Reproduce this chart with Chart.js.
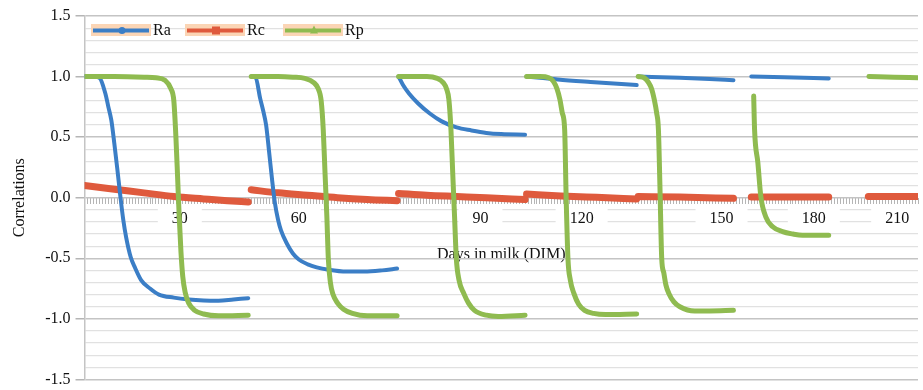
<!DOCTYPE html>
<html>
<head>
<meta charset="utf-8">
<script src="https://cdn.jsdelivr.net/npm/chart.js@4.4.1/dist/chart.umd.min.js"></script>
<style>
  html, body { margin: 0; padding: 0; background: #fff; }
  #wrap { width: 923px; height: 390px; position: relative; }
</style>
</head>
<body>
<div id="wrap"><canvas id="myChart"></canvas></div>
<script>
// x = position along the DIM axis, y = correlation; null breaks the line between windows
var raDim = [0, 3, 5, 7, 8, 9, 10, 11, 12, 13, 14, 15.5, 17, 19, 22, 25, 30, 35, 40, 45, 50, 55, 55.5,
  56, 57.5, 59, 60, 61, 62, 63, 64, 65, 66, 68, 70, 72, 75, 78, 82, 88, 94, 100, 105, 105.2,
  105.5, 107, 109, 112, 116, 120, 125, 130, 135, 140, 148, 148.2,
  148.5, 153, 159, 170, 185.5, 185.7,
  186, 200, 210, 218, 221,
  224, 235, 250];
var raVal = [1.0, 1.0, 0.99, 0.86, 0.75, 0.64, 0.45, 0.24, 0.02, -0.18, -0.33, -0.49, -0.58, -0.68, -0.75, -0.80, -0.825, -0.84, -0.848, -0.85, -0.84, -0.83, null,
  1.0, 0.99, 0.82, 0.72, 0.6, 0.38, 0.15, -0.05, -0.18, -0.27, -0.38, -0.46, -0.51, -0.55, -0.575, -0.595, -0.61, -0.61, -0.6, -0.585, null,
  1.0, 0.93, 0.86, 0.78, 0.695, 0.63, 0.58, 0.555, 0.535, 0.525, 0.52, null,
  1.0, 0.99, 0.975, 0.955, 0.93, null,
  1.0, 0.99, 0.98, 0.97, null,
  1.0, 0.995, 0.985];

var rcDim = [0, 10, 20, 30, 40, 48, 55, 55.5, 56, 65, 75, 85, 95, 105, 105.2, 105.5, 115, 125, 135, 148, 148.2,
  148.5, 160, 172, 185.5, 185.7, 186, 200, 218, 221, 224, 250, 257, 263.3, 280];
var rcVal = [0.1, 0.07, 0.04, 0.01, -0.01, -0.025, -0.035, null, 0.065, 0.04, 0.02, 0.0, -0.015, -0.025, null, 0.035, 0.02, 0.01, 0.0, -0.015, null,
  0.03, 0.015, 0.003, -0.01, null, 0.01, 0.005, -0.005, null, 0.005, 0.005, null, 0.01, 0.01];

var rpDim = [0, 10, 20, 24, 27, 29, 30, 30.7, 31.3, 31.8, 32.4, 33, 33.8, 35, 37, 40, 45, 55, 55.5,
  56, 65, 70, 74, 77, 78.5, 79.5, 80.2, 80.8, 81.4, 81.9, 82.6, 83.5, 85, 87, 90, 95, 105, 105.2,
  105.5, 115, 118.5, 120.5, 121.6, 122.4, 123.1, 123.7, 124.3, 124.9, 125.8, 127.4, 129, 131, 135, 139, 148, 148.2,
  148.5, 153, 156, 157.5, 158.7, 159.7, 160.5, 161.3, 161.8, 162.4, 163.2, 164.4, 166, 168, 171, 175, 185.5, 185.7,
  186, 188, 189.5, 190.5, 191.4, 192.2, 192.8, 193.3, 193.9, 194.6, 195.3, 196.3, 198, 200, 205, 210, 218, 221,
  224.8, 225.1, 226.2, 227.2, 228.9, 231.2, 234.5, 238, 241.2, 250, 257,
  263.5, 272, 280];
var rpVal = [1.0, 1.0, 0.995, 0.99, 0.97, 0.9, 0.8, 0.5, 0.15, -0.15, -0.45, -0.65, -0.78, -0.87, -0.93, -0.96, -0.975, -0.97, null,
  1.0, 1.0, 0.995, 0.985, 0.95, 0.9, 0.8, 0.56, 0.2, -0.15, -0.5, -0.7, -0.8, -0.87, -0.92, -0.955, -0.975, -0.975, null,
  1.0, 1.0, 0.985, 0.95, 0.9, 0.81, 0.56, 0.2, -0.15, -0.5, -0.68, -0.79, -0.87, -0.93, -0.97, -0.98, -0.97, null,
  1.0, 1.0, 0.99, 0.96, 0.9, 0.81, 0.7, 0.56, 0.0, -0.5, -0.68, -0.79, -0.88, -0.93, -0.955, -0.965, -0.96, null,
  1.0, 0.99, 0.95, 0.9, 0.81, 0.7, 0.56, 0.1, -0.5, -0.62, -0.72, -0.79, -0.86, -0.9, -0.935, -0.935, -0.93, null,
  0.84, 0.56, 0.29, 0.01, -0.16, -0.24, -0.28, -0.3, -0.31, -0.31, null,
  1.0, 0.995, 0.99];

var tickDim = [32, 72, 133, 167, 214, 245, 273];
var tickText = ['30', '60', '90', '120', '150', '180', '210'];

var serif = "'Liberation Serif', 'Times New Roman', serif";

function toPoints(xs, ys) {
  return xs.map(function (x, i) { return {x: x, y: ys[i]}; });
}
function isMajor(v) {
  return Math.abs(v * 2 - Math.round(v * 2)) < 1e-6;
}

// legend drawn inside the plot, top left, like the original
var insideLegend = {
  id: 'insideLegend',
  afterDatasetsDraw: function (chart) {
    var ctx = chart.ctx;
    var starts = [91, 185, 283];
    var y = 30.5;
    ctx.save();
    chart.data.datasets.forEach(function (ds, i) {
      var x0 = starts[i];
      ctx.fillStyle = '#fbd5b5';
      ctx.fillRect(x0, 24, 60, 12);
      ctx.strokeStyle = ds.borderColor;
      ctx.lineWidth = 4;
      ctx.beginPath();
      ctx.moveTo(x0 + 2, y);
      ctx.lineTo(x0 + 58, y);
      ctx.stroke();
      ctx.fillStyle = ds.borderColor;
      var mx = x0 + 31;
      ctx.beginPath();
      if (ds.pointStyle === 'rect') {
        ctx.rect(mx - 4, y - 4, 8, 8);
      } else if (ds.pointStyle === 'triangle') {
        ctx.moveTo(mx, y - 5); ctx.lineTo(mx + 4, y + 3); ctx.lineTo(mx - 4, y + 3); ctx.closePath();
      } else {
        ctx.arc(mx, y, 3.5, 0, Math.PI * 2);
      }
      ctx.fill();
      ctx.fillStyle = '#111';
      ctx.font = '16px ' + serif;
      ctx.textBaseline = 'middle';
      ctx.fillText(ds.label, x0 + 62, y);
    });
    ctx.restore();
  }
};

var ctx = document.getElementById('myChart').getContext('2d');
var myChart = new Chart(ctx, {
  type: 'line',
  data: {
    datasets: [{
        label: 'Ra',
        data: toPoints(raDim, raVal),
        borderColor: '#3b7ec6',
        borderWidth: 4,
        pointStyle: 'circle',
        order: 2
      }, {
        label: 'Rc',
        data: toPoints(rcDim, rcVal),
        borderColor: '#df5a3d',
        borderWidth: 7,
        pointStyle: 'rect',
        order: 3
      }, {
        label: 'Rp',
        data: toPoints(rpDim, rpVal),
        borderColor: '#8fbb50',
        borderWidth: 5,
        pointStyle: 'triangle',
        order: 1
      }
    ]
  },
  options: {
    responsive: true,
    maintainAspectRatio: false,
    animation: false,
    spanGaps: false,
    elements: {
      point: { radius: 0, hoverRadius: 0 },
      line: { cubicInterpolationMode: 'monotone', fill: false, borderCapStyle: 'round' }
    },
    layout: { padding: { top: 16, right: 0, bottom: 0, left: 10 } },
    plugins: {
      legend: { display: false },
      tooltip: { enabled: false }
    },
    scales: {
      x: {
        type: 'linear',
        min: 0,
        max: 280,
        position: { y: 0 },
        afterBuildTicks: function (axis) {
          var t = [];
          for (var i = 0; i <= 280; i++) t.push({value: i});
          axis.ticks = t;
        },
        ticks: {
          autoSkip: false,
          maxRotation: 0,
          padding: 5,
          color: '#111',
          font: { family: serif, size: 16 },
          showLabelBackdrop: function (c) { return c.tick && c.tick.label !== ''; },
          backdropColor: '#ffffff',
          backdropPadding: { left: 14, right: 14, top: 3, bottom: 5 },
          callback: function (v) {
            var k = tickDim.indexOf(v);
            return k >= 0 ? tickText[k] : '';
          }
        },
        grid: { drawOnChartArea: false, drawTicks: true, tickLength: 6, tickColor: '#b5b5b5' },
        border: { display: false },
        title: {
          display: true,
          text: 'Days in milk (DIM)',
          color: '#111',
          font: { family: serif, size: 16 },
          padding: { top: 12, bottom: 0 }
        }
      },
      y: {
        min: -1.5,
        max: 1.5,
        ticks: {
          stepSize: 0.1,
          autoSkip: false,
          padding: 5,
          color: '#111',
          font: { family: serif, size: 16, lineHeight: 0.7 },
          callback: function (v) { return isMajor(v) ? (Math.round(v * 10) / 10).toFixed(1) : ''; }
        },
        grid: {
          color: function (c) { return isMajor(c.tick.value) ? '#c4c4c4' : '#e1e1e1'; },
          lineWidth: function (c) { return isMajor(c.tick.value) ? 1.5 : 1.2; },
          tickLength: 9,
          tickColor: function (c) { return isMajor(c.tick.value) ? '#b5b5b5' : 'rgba(0,0,0,0)'; }
        },
        border: { color: '#c4c4c4', width: 1.5 },
        title: {
          display: true,
          text: 'Correlations',
          color: '#111',
          font: { family: serif, size: 16 },
          padding: { top: 0, bottom: 11 }
        }
      }
    }
  },
  plugins: [insideLegend]
});
</script>
</body>
</html>
